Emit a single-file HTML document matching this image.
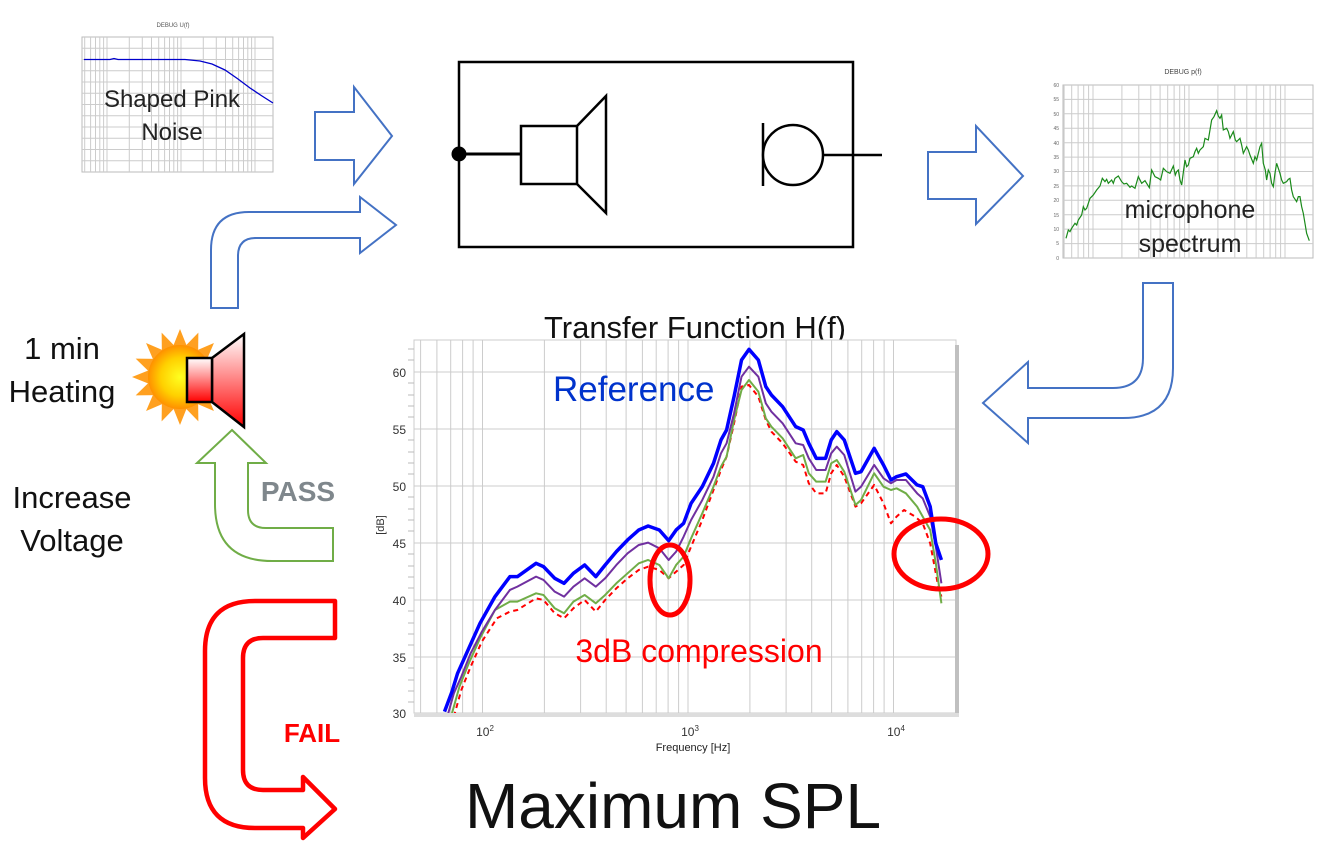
<!DOCTYPE html>
<html><head><meta charset="utf-8"><style>
html,body{margin:0;padding:0;background:#fff;}
svg{display:block;font-family:"Liberation Sans",sans-serif;}
</style></head><body>
<svg width="1340" height="852" viewBox="0 0 1340 852" xmlns="http://www.w3.org/2000/svg">
<defs>
<radialGradient id="sun" cx="50%" cy="50%" r="50%">
<stop offset="0" stop-color="#ffff20"/><stop offset="0.6" stop-color="#ffd000"/><stop offset="1" stop-color="#ff9000"/>
</radialGradient>
<linearGradient id="spk" x1="0" y1="0" x2="0" y2="1">
<stop offset="0" stop-color="#fff"/><stop offset="1" stop-color="#ff0000"/>
</linearGradient>
<clipPath id="mc"><rect x="414" y="340" width="542" height="373"/></clipPath>
</defs>

<!-- Shaped pink noise chart -->
<text x="173" y="27" font-size="6" text-anchor="middle" fill="#555">DEBUG U(f)</text>
<rect x="82" y="37" width="191" height="135" fill="#fff" stroke="#bbb" stroke-width="1"/>
<path stroke="#ccc" stroke-width="1" fill="none" d="M84.7 37V172M90.6 37V172M95.5 37V172M99.8 37V172M103.6 37V172M107 37V172M129.3 37V172M142.3 37V172M151.5 37V172M158.7 37V172M164.6 37V172M169.5 37V172M173.8 37V172M177.6 37V172M181 37V172M203.3 37V172M216.3 37V172M225.5 37V172M232.7 37V172M238.6 37V172M243.5 37V172M247.8 37V172M251.6 37V172M255 37V172
M82 48.3H273M82 59.5H273M82 70.8H273M82 82H273M82 93.3H273M82 104.5H273M82 115.8H273M82 127H273M82 138.3H273M82 149.5H273M82 160.8H273"/>
<path d="M84 59.5H110L114 58.5L118 59.5H185L200 61L212 64L225 70L238 79L250 88L262 96L273 103" stroke="#0000cc" stroke-width="1.3" fill="none"/>
<text x="172" y="107" font-size="24" text-anchor="middle" fill="#222">Shaped Pink</text>
<text x="172" y="140" font-size="24" text-anchor="middle" fill="#222">Noise</text>

<!-- arrow 1 -->
<path d="M315 112H354V87L392 136L354 184V160H315Z" fill="#fff" stroke="#4472c4" stroke-width="2"/>
<!-- bent arrow -->
<path d="M211 308V250Q211 212 249 212H360V197L396 225L360 253V238H256Q238 238 238 256V308Z" fill="#fff" stroke="#4472c4" stroke-width="2"/>

<!-- box -->
<rect x="459" y="62" width="394" height="185" fill="#fff" stroke="#000" stroke-width="2.5"/>
<circle cx="459" cy="154" r="7.5" fill="#000"/>
<line x1="459" y1="154" x2="521" y2="154" stroke="#000" stroke-width="3"/>
<rect x="521" y="126" width="56" height="58" fill="#fff" stroke="#000" stroke-width="2.5"/>
<path d="M577 126L606 96V213L577 184" fill="none" stroke="#000" stroke-width="2.5"/>
<line x1="763" y1="123" x2="763" y2="186" stroke="#000" stroke-width="2.5"/>
<circle cx="793" cy="155" r="30" fill="#fff" stroke="#000" stroke-width="2.5"/>
<line x1="823" y1="155" x2="882" y2="155" stroke="#000" stroke-width="2.5"/>

<!-- arrow right -->
<path d="M928 152H976V126L1023 176L976 224V199H928Z" fill="#fff" stroke="#4472c4" stroke-width="2"/>

<!-- microphone spectrum chart -->
<text x="1183" y="74" font-size="7" text-anchor="middle" fill="#444">DEBUG p(f)</text>
<rect x="1063" y="85" width="250" height="173" fill="#fff" stroke="#bbb"/>
<path stroke="#ccc" stroke-width="1" fill="none" d="M1064.1 85V258M1071.7 85V258M1078.1 85V258M1083.7 85V258M1088.6 85V258M1093 85V258M1121.9 85V258M1138.8 85V258M1150.8 85V258M1160.1 85V258M1167.7 85V258M1174.1 85V258M1179.7 85V258M1184.6 85V258M1189 85V258M1217.9 85V258M1234.8 85V258M1246.8 85V258M1256.1 85V258M1263.7 85V258M1270.1 85V258M1275.7 85V258M1280.6 85V258M1285 85V258
M1063 99.4H1313M1063 113.8H1313M1063 128.2H1313M1063 142.7H1313M1063 157.1H1313M1063 171.5H1313M1063 185.9H1313M1063 200.3H1313M1063 214.7H1313M1063 229.1H1313M1063 243.6H1313"/>
<g font-size="5" fill="#666" text-anchor="end">
<text x="1059" y="87">60</text><text x="1059" y="101">55</text><text x="1059" y="116">50</text><text x="1059" y="130">45</text><text x="1059" y="145">40</text><text x="1059" y="159">35</text><text x="1059" y="173">30</text><text x="1059" y="188">25</text><text x="1059" y="202">20</text><text x="1059" y="217">15</text><text x="1059" y="231">10</text><text x="1059" y="245">5</text><text x="1059" y="260">0</text>
</g>
<g transform="translate(1030,60) scale(0.3333)">
<polyline fill="none" stroke="#1a8a1a" stroke-width="1.2" vector-effect="non-scaling-stroke" points="108,535 115,510 120,515 125,505 135,490 140,495 145,480 155,465 160,440 165,450 170,445 180,415 190,405 200,390 210,378 217,355 225,365 230,358 235,370 245,360 250,370 255,355 265,348 275,365 282,372 290,370 300,382 305,378 315,385 325,350 335,370 345,362 358,383 365,330 375,350 385,355 392,360 400,325 410,335 420,340 430,318 436,345 440,335 445,330 450,360 455,375 465,300 470,320 475,315 480,295 490,290 495,275 500,265 505,280 510,270 520,260 525,235 535,240 545,180 552,170 560,152 565,168 570,175 575,165 580,210 590,205 595,215 600,235 610,215 616,240 620,245 630,235 635,255 640,280 650,260 655,270 660,285 670,310 675,290 680,300 690,260 695,250 700,310 706,330 710,360 715,330 720,340 725,370 730,380 735,340 740,310 750,340 755,360 760,370 770,365 775,358 780,355 785,390 790,410 800,425 805,410 810,410 815,440 820,460 825,490 830,520 838,542"/>
</g>
<text x="1190" y="218" font-size="25" text-anchor="middle" fill="#222">microphone</text>
<text x="1190" y="252" font-size="25" text-anchor="middle" fill="#222">spectrum</text>

<!-- bent arrow down-left -->
<path d="M1143 283H1173V368Q1173 418 1123 418H1028V443L983 403L1028 362V388H1113Q1143 388 1143 358Z" fill="#fff" stroke="#4472c4" stroke-width="2"/>

<!-- Transfer function title -->
<text x="695" y="338" font-size="31" text-anchor="middle" fill="#111">Transfer Function H(f)</text>

<!-- main chart -->
<rect x="414" y="340" width="542" height="373" fill="#fff" stroke="#ccc"/>
<path stroke="#ccc" stroke-width="1" fill="none" d="M420.6 340V713M436.9 340V713M450.7 340V713M462.6 340V713M473.1 340V713M482.5 340V713M544.4 340V713M580.6 340V713M606.2 340V713M626.1 340V713M642.4 340V713M656.2 340V713M668.1 340V713M678.6 340V713M688 340V713M749.9 340V713M786.1 340V713M811.7 340V713M831.6 340V713M847.9 340V713M861.7 340V713M873.6 340V713M884.1 340V713M893.5 340V713
M414 372H956M414 429H956M414 486H956M414 543H956M414 600H956M414 657H956"/>
<path stroke="#bbb" stroke-width="1" d="M408 349H414M408 360H414M408 383H414M408 395H414M408 406H414M408 417H414M408 440H414M408 452H414M408 463H414M408 474H414M408 497H414M408 509H414M408 520H414M408 531H414M408 554H414M408 566H414M408 577H414M408 588H414M408 611H414M408 623H414M408 634H414M408 645H414M408 668H414M408 680H414M408 691H414M408 702H414"/>
<rect x="955" y="345" width="4" height="370" fill="#c0c0c0"/>
<rect x="414" y="713" width="545" height="4" fill="#ddd"/>
<g font-size="12" fill="#333" text-anchor="end">
<text x="406" y="377">60</text><text x="406" y="434">55</text><text x="406" y="491">50</text><text x="406" y="548">45</text><text x="406" y="605">40</text><text x="406" y="662">35</text><text x="406" y="718">30</text>
</g>
<text x="384" y="525" font-size="11" fill="#333" transform="rotate(-90 384 525)" text-anchor="middle">[dB]</text>
<g font-size="12" fill="#333" text-anchor="middle">
<text x="485" y="736">10<tspan font-size="8" dy="-5">2</tspan></text>
<text x="690" y="736">10<tspan font-size="8" dy="-5">3</tspan></text>
<text x="896" y="736">10<tspan font-size="8" dy="-5">4</tspan></text>
</g>
<text x="693" y="751" font-size="11" fill="#222" text-anchor="middle">Frequency [Hz]</text>

<g clip-path="url(#mc)">
<g transform="translate(381,330) scale(0.3736,0.3333)" fill="none" stroke-linejoin="round">
<polyline vector-effect="non-scaling-stroke" stroke="#ff0000" stroke-width="2" stroke-dasharray="5,4" points="195,1160 215,1080 240,1010 270,935 310,865 345,845 365,840 415,805 435,810 465,850 490,865 515,835 545,810 575,845 600,810 630,775 660,745 690,720 715,710 745,720 770,745 790,725 810,705 830,650 860,570 890,480 910,420 925,380 945,280 965,170 985,165 1010,200 1030,270 1045,305 1075,340 1110,395 1130,405 1145,460 1165,490 1190,490 1205,430 1220,405 1240,440 1270,530 1285,520 1320,465 1345,520 1365,580 1380,560 1400,540 1430,560 1450,580 1470,640 1490,760 1500,800"/>
<polyline vector-effect="non-scaling-stroke" stroke="#70ad47" stroke-width="2" points="190,1150 210,1070 235,1000 265,925 305,840 345,815 365,815 415,790 435,795 465,835 490,850 515,815 545,795 575,820 600,795 630,760 660,730 690,700 715,690 745,705 770,745 790,705 810,680 830,625 860,550 890,470 910,410 925,380 945,270 965,180 985,150 1010,185 1030,265 1045,290 1075,325 1110,385 1130,375 1145,430 1165,455 1190,455 1205,400 1220,390 1240,425 1270,525 1285,510 1320,430 1345,470 1365,480 1380,475 1405,490 1435,530 1450,560 1470,600 1485,700 1500,820"/>
<polyline vector-effect="non-scaling-stroke" stroke="#7030a0" stroke-width="2" points="180,1150 195,1090 215,1040 240,970 270,905 305,840 345,780 365,770 415,740 435,750 465,785 490,800 515,770 545,745 575,770 600,745 630,705 660,670 690,645 715,638 745,655 770,690 790,665 810,620 830,570 860,510 890,440 910,370 925,340 945,250 965,140 985,110 1010,140 1030,220 1045,245 1075,280 1110,340 1130,345 1145,385 1165,420 1190,420 1205,370 1220,350 1240,375 1270,485 1285,470 1320,405 1345,445 1365,460 1380,450 1405,450 1435,490 1450,505 1470,560 1485,650 1500,760"/>
<polyline vector-effect="non-scaling-stroke" stroke="#0000ff" stroke-width="3.5" points="170,1145 190,1085 205,1030 235,955 265,880 305,800 345,740 365,740 415,700 435,710 465,745 490,760 515,730 545,705 575,740 600,705 630,665 660,630 690,600 715,588 745,600 770,632 790,600 810,580 830,520 860,470 890,400 910,330 925,300 945,200 965,90 985,58 1010,90 1030,170 1045,195 1075,230 1110,290 1130,300 1145,340 1165,385 1190,385 1205,330 1220,305 1240,330 1270,430 1285,425 1320,355 1345,405 1365,450 1380,440 1405,432 1435,465 1450,470 1470,530 1485,640 1500,690"/>
</g>
</g>
<text x="553" y="401" font-size="35" fill="#0033cc">Reference</text>
<ellipse cx="670" cy="580" rx="20" ry="35" fill="none" stroke="#ff0000" stroke-width="5"/>
<ellipse cx="941" cy="554" rx="47" ry="35" fill="none" stroke="#ff0000" stroke-width="5"/>
<text x="699" y="662" font-size="32" fill="#ff0000" text-anchor="middle">3dB compression</text>

<!-- left texts -->
<text x="62" y="359" font-size="31" text-anchor="middle" fill="#111">1 min</text>
<text x="62" y="402" font-size="31" text-anchor="middle" fill="#111">Heating</text>
<text x="72" y="508" font-size="31" text-anchor="middle" fill="#111">Increase</text>
<text x="72" y="551" font-size="31" text-anchor="middle" fill="#111">Voltage</text>

<!-- sun + speaker -->
<g transform="translate(180,377)">
<g fill="#ffa020">
<path d="M0-48L8-28L-8-28Z"/><path d="M0-48L8-28L-8-28Z" transform="rotate(22.5)"/><path d="M0-48L8-28L-8-28Z" transform="rotate(45)"/><path d="M0-48L8-28L-8-28Z" transform="rotate(67.5)"/><path d="M0-48L8-28L-8-28Z" transform="rotate(90)"/><path d="M0-48L8-28L-8-28Z" transform="rotate(112.5)"/><path d="M0-48L8-28L-8-28Z" transform="rotate(135)"/><path d="M0-48L8-28L-8-28Z" transform="rotate(157.5)"/><path d="M0-48L8-28L-8-28Z" transform="rotate(180)"/><path d="M0-48L8-28L-8-28Z" transform="rotate(202.5)"/><path d="M0-48L8-28L-8-28Z" transform="rotate(225)"/><path d="M0-48L8-28L-8-28Z" transform="rotate(247.5)"/><path d="M0-48L8-28L-8-28Z" transform="rotate(270)"/><path d="M0-48L8-28L-8-28Z" transform="rotate(292.5)"/><path d="M0-48L8-28L-8-28Z" transform="rotate(315)"/><path d="M0-48L8-28L-8-28Z" transform="rotate(337.5)"/>
</g>
<circle r="32" fill="url(#sun)"/>
</g>
<path d="M212 358L244 334V427L212 402Z" fill="url(#spk)" stroke="#000" stroke-width="2.5"/>
<rect x="187" y="358" width="25" height="44" fill="url(#spk)" stroke="#000" stroke-width="2.5"/>

<!-- PASS arrow -->
<path d="M232 430L266 463H248V510Q248 528 266 528H333V561H272Q215 561 215 504V463H197Z" fill="#fff" stroke="#70ad47" stroke-width="2"/>
<text x="298" y="501" font-size="28" font-weight="bold" fill="#7f878c" text-anchor="middle">PASS</text>

<!-- FAIL arrow -->
<path d="M335 601V638H263Q243 638 243 658V770Q243 790 263 790H303V777L335 809L303 838V828H255Q205 828 205 778V651Q205 601 255 601Z" fill="#fff" stroke="#ff0000" stroke-width="4.5" stroke-linejoin="round"/>
<text x="312" y="742" font-size="26" font-weight="bold" fill="#ff0000" text-anchor="middle">FAIL</text>

<text x="673" y="828" font-size="64" text-anchor="middle" fill="#111">Maximum SPL</text>
</svg>
</body></html>
